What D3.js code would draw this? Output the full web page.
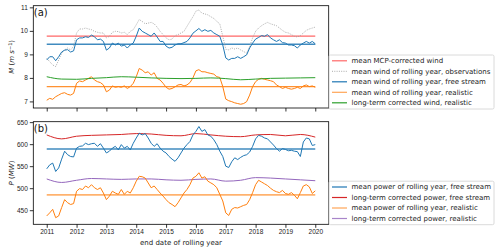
<!DOCTYPE html>
<html>
<head>
<meta charset="utf-8">
<script src="https://cdn.jsdelivr.net/npm/d3@7"></script>
<style>
	body { margin: 0; background: #fff; }
	svg { display: block; font-family: "DejaVu Sans", sans-serif; }
	.axis path, .axis line { stroke: #000; stroke-width: 0.8px; }
	.axis text { fill: #222; font-size: 6.5px; }
</style>
</head>
<body>
<svg id="chart" width="500" height="252"></svg>
<script>
// rolling-year end dates, every 0.1 year from 2011 to 2020
var years = d3.range(0, 91).map(function(i){ return 2011 + i / 10; });
// slow long-term corrected series, every half year
var halfYears = d3.range(0, 19).map(function(i){ return 2011 + i / 2; });
var yearTicks = [2011, 2012, 2013, 2014, 2015, 2016, 2017, 2018, 2019, 2020];
var windTicks = [7, 8, 9, 10, 11];
var powerTicks = [450, 500, 550, 600, 650];

// (a) wind speed, m/s
var windObs = [
	8.83, 8.69, 8.55, 8.48, 8.76, 9.05, 9.19, 9.27, 9.19, 9.34,
	9.91, 10.08, 10.08, 10.12, 10.08, 10.05, 9.98, 9.94, 9.91, 9.91,
	9.70, 9.77, 9.94, 9.98, 9.97, 9.91, 9.94, 9.84, 9.98, 10.05,
	10.26, 10.48, 10.40, 10.30, 10.33, 10.36, 10.30, 10.16, 9.98, 9.84,
	9.70, 9.62, 9.65, 9.80, 9.84, 9.91, 9.98, 10.19, 10.40, 10.60,
	10.84, 10.89, 10.75, 10.72, 10.68, 10.60, 10.53, 10.40, 10.30, 9.77,
	9.22, 9.19, 9.27, 9.23, 9.27, 9.19, 9.12, 9.05, 9.34, 9.70,
	9.98, 10.12, 10.22, 10.30, 10.36, 10.30, 10.26, 10.22, 10.12, 10.02,
	9.94, 9.91, 9.84, 9.77, 9.74, 9.80, 9.91, 10.02, 10.08, 10.12,
	10.16
];
var windFree = [
	8.76, 8.90, 8.90, 8.73, 8.90, 9.10, 9.18, 9.20, 9.10, 9.15,
	9.62, 9.70, 9.70, 9.75, 9.72, 9.82, 9.75, 9.62, 9.65, 9.55,
	9.18, 9.27, 9.48, 9.40, 9.48, 9.35, 9.40, 9.27, 9.40, 9.48,
	9.77, 10.12, 9.98, 9.91, 9.84, 9.77, 9.91, 9.74, 9.55, 9.55,
	9.35, 9.27, 9.30, 9.40, 9.45, 9.45, 9.50, 9.55, 9.70, 9.90,
	10.00, 10.10, 9.98, 10.05, 9.98, 10.02, 9.91, 9.84, 9.77, 9.40,
	8.85, 8.76, 8.83, 8.83, 8.90, 8.83, 8.90, 8.98, 9.27, 9.48,
	9.65, 9.72, 9.80, 9.77, 9.84, 9.70, 9.62, 9.55, 9.62, 9.50,
	9.48, 9.40, 9.40, 9.37, 9.27, 9.40, 9.48, 9.55, 9.48, 9.55,
	9.45
];
var windReal = [
	7.05, 7.13, 7.09, 7.20, 7.27, 7.34, 7.37, 7.30, 7.27, 7.34,
	7.77, 7.87, 7.84, 7.91, 7.98, 8.05, 7.91, 7.84, 7.80, 7.70,
	7.41, 7.48, 7.66, 7.60, 7.63, 7.60, 7.66, 7.55, 7.63, 7.77,
	8.05, 8.40, 8.33, 8.22, 8.26, 8.12, 8.22, 7.98, 7.91, 7.77,
	7.60, 7.52, 7.55, 7.62, 7.70, 7.72, 7.66, 7.70, 7.80, 8.00,
	8.30, 8.35, 8.26, 8.26, 8.22, 8.19, 8.16, 8.05, 8.02, 7.63,
	7.10, 7.03, 6.99, 6.94, 6.91, 6.88, 6.91, 6.99, 7.27, 7.63,
	7.84, 7.94, 7.98, 7.94, 7.91, 7.88, 7.84, 7.70, 7.63, 7.55,
	7.60, 7.55, 7.52, 7.55, 7.60, 7.55, 7.66, 7.70, 7.63, 7.66,
	7.60
];
var windLongTerm = [8.05, 7.95, 7.94, 7.98, 8.01, 8.05, 8.03, 8.00, 7.98, 7.97,
	7.98, 8.00, 7.97, 7.92, 7.95, 7.98, 7.99, 8.00, 8.01];
var windMcpMean = 9.78;
var windFreeMean = 9.43;
var windRealMean = 7.63;

// (b) power, MW
var powerFree = [
	544, 553, 557, 538, 546, 566, 584, 576, 572, 571,
	591, 595, 596, 602, 599, 601, 602, 595, 601, 591,
	580, 584, 591, 595, 587, 599, 591, 595, 587, 602,
	614, 625, 621, 624, 614, 602, 595, 601, 591, 584,
	580, 572, 566, 561, 569, 580, 591, 599, 606, 621,
	629, 640, 629, 633, 621, 618, 610, 599, 584, 572,
	550, 547, 560, 569, 565, 570, 574, 576, 582, 595,
	612, 620, 618, 614, 612, 605, 598, 590, 584, 590,
	588, 585, 586, 584, 583, 572, 605, 614, 612, 597,
	599
];
var powerReal = [
	437, 444, 452, 433, 437, 456, 474, 467, 463, 465,
	493, 499, 497, 505, 501, 508, 501, 497, 501, 489,
	474, 482, 493, 489, 486, 497, 486, 493, 489, 501,
	516, 527, 526, 523, 512, 501, 505, 497, 489, 482,
	474, 467, 463, 458, 467, 478, 489, 497, 508, 523,
	527, 535, 523, 526, 516, 512, 508, 501, 486, 471,
	444, 438, 452, 456, 455, 458, 461, 463, 474, 490,
	508, 518, 514, 510, 506, 500, 495, 492, 490, 495,
	488, 486, 490, 484, 476, 490, 505, 508, 503, 488,
	494
];
var powerFreeLongTerm = [621, 612, 618, 620, 621, 622, 624, 623, 620, 619,
	624, 621, 618, 617, 621, 622, 619, 622, 616];
var powerRealLongTerm = [521, 513, 518, 522, 521, 520, 521, 521, 519, 518,
	520, 521, 516, 518, 524, 523, 521, 519, 517];
var powerFreeMean = 589;
var powerRealMean = 485;

var svg = d3.select("#chart");

var xScale = d3.scaleLinear().domain([2010.55, 2020.45]).range([33.3, 328.7]);

function makePanel(opt){
	var yScale = d3.scaleLinear().domain(opt.domain).range([opt.bottom, opt.top]);
	var g = svg.append("g");

	var line = d3.line()
		.x(function(d){ return xScale(d[0]); })
		.y(function(d){ return yScale(d[1]); });
	var smooth = d3.line()
		.curve(d3.curveMonotoneX)
		.x(function(d){ return xScale(d[0]); })
		.y(function(d){ return yScale(d[1]); });

	// horizontal mean lines first, series on top
	opt.means.forEach(function(m){
		g.append("line")
			.attr("x1", xScale(2011)).attr("x2", xScale(2020))
			.attr("y1", yScale(m.value)).attr("y2", yScale(m.value))
			.style("stroke", m.color)
			.style("stroke-opacity", m.opacity)
			.style("stroke-width", m.width);
	});
	opt.series.forEach(function(s){
		var pts = d3.zip(s.x, s.values);
		g.append("path")
			.attr("d", (s.smooth ? smooth : line)(pts))
			.style("fill", "none")
			.style("stroke", s.color)
			.style("stroke-opacity", s.opacity || 1)
			.style("stroke-width", s.width || 1)
			.style("stroke-dasharray", s.dash || null)
			.style("stroke-linejoin", "round");
	});

	// axes
	var xAxis = d3.axisBottom(xScale)
		.tickValues(yearTicks)
		.tickSize(3.5)
		.tickPadding(2)
		.tickFormat(opt.xLabels ? d3.format("d") : "");
	g.append("g").attr("class", "axis")
		.attr("transform", "translate(0," + opt.bottom + ")")
		.call(xAxis)
		.select(".domain").remove();
	g.append("g").attr("class", "axis")
		.attr("transform", "translate(33.3,0)")
		.call(d3.axisLeft(yScale).tickValues(opt.ticks).tickSize(3.5).tickPadding(2).tickFormat(d3.format("d")))
		.select(".domain").remove();

	// frame
	g.append("rect")
		.attr("x", 33.3).attr("y", opt.top)
		.attr("width", 328.7 - 33.3).attr("height", opt.bottom - opt.top)
		.style("fill", "none")
		.style("stroke", "#000")
		.style("stroke-width", 0.8);

	g.append("text")
		.attr("x", 33.8).attr("y", opt.top + 10.3)
		.style("font-size", "10px")
		.style("fill", "#111")
		.text(opt.tag);

	// y label
	var yl = g.append("text")
		.attr("transform", "translate(14," + ((opt.top + opt.bottom) / 2) + ") rotate(-90)")
		.attr("text-anchor", "middle")
		.style("font-size", "7px")
		.style("fill", "#222");
	opt.yLabel(yl);

	// legend
	var lg = g.append("g").attr("transform", "translate(329," + opt.legendTop + ")");
	var rowH = 10.5;
	lg.append("rect")
		.attr("width", 165)
		.attr("height", opt.legend.length * rowH + 1.5)
		.attr("rx", 1.5)
		.style("fill", "#fff")
		.style("fill-opacity", 0.8)
		.style("stroke", "#d0d0d0")
		.style("stroke-width", 0.8);
	var rows = lg.selectAll("g.row")
		.data(opt.legend)
		.enter().append("g")
		.attr("class", "row")
		.attr("transform", function(d, i){ return "translate(0," + (5.8 + i * rowH) + ")"; });
	rows.append("line")
		.attr("x1", 3).attr("x2", 18)
		.style("stroke", function(d){ return d.color; })
		.style("stroke-opacity", function(d){ return d.opacity || 1; })
		.style("stroke-width", function(d){ return d.width || 1.2; })
		.style("stroke-dasharray", function(d){ return d.dash || null; });
	rows.append("text")
		.attr("x", 22.5).attr("y", 2.4)
		.style("font-size", "7px")
		.style("fill", "#222")
		.text(function(d){ return d.label; });
}

makePanel({
	top: 5.7, bottom: 108, domain: [6.72, 11.07], ticks: windTicks, tag: "(a)", xLabels: false,
	means: [
		{value: windMcpMean, color: "#ff0000", opacity: 0.6, width: 1.3},
		{value: windFreeMean, color: "#1f77b4", opacity: 0.85, width: 1.3},
		{value: windRealMean, color: "#ff7f0e", opacity: 0.85, width: 1.3}
	],
	series: [
		{x: years, values: windObs, color: "#a0a0a0", dash: "1,1.3", width: 0.9},
		{x: years, values: windFree, color: "#1f77b4"},
		{x: years, values: windReal, color: "#ff7f0e"},
		{x: halfYears, values: windLongTerm, color: "#2ca02c", smooth: true}
	],
	yLabel: function(t){
		t.append("tspan").style("font-style", "italic").text("M");
		t.append("tspan").text(" (");
		t.append("tspan").style("font-style", "italic").text("m s");
		t.append("tspan").attr("dy", -2.5).style("font-size", "5px").text("−1");
		t.append("tspan").attr("dy", 2.5).text(")");
	},
	legendTop: 55,
	legend: [
		{label: "mean MCP-corrected wind", color: "#ff0000", opacity: 0.6},
		{label: "mean wind of rolling year, observations", color: "#a0a0a0", dash: "1,1.3", width: 0.9},
		{label: "mean wind of rolling year, free stream", color: "#1f77b4"},
		{label: "mean wind of rolling year, realistic", color: "#ff7f0e", opacity: 0.7},
		{label: "long-term corrected wind, realistic", color: "#2ca02c"}
	]
});

makePanel({
	top: 121.7, bottom: 224.3, domain: [418, 651], ticks: powerTicks, tag: "(b)", xLabels: true,
	means: [
		{value: powerFreeMean, color: "#1f77b4", opacity: 0.85, width: 1.3},
		{value: powerRealMean, color: "#ff7f0e", opacity: 0.6, width: 1.8}
	],
	series: [
		{x: halfYears, values: powerFreeLongTerm, color: "#d62728", smooth: true},
		{x: halfYears, values: powerRealLongTerm, color: "#9467bd", smooth: true},
		{x: years, values: powerFree, color: "#1f77b4"},
		{x: years, values: powerReal, color: "#ff7f0e"}
	],
	yLabel: function(t){
		t.append("tspan").style("font-style", "italic").text("P");
		t.append("tspan").text(" (");
		t.append("tspan").style("font-style", "italic").text("MW");
		t.append("tspan").text(")");
	},
	legendTop: 181.2,
	legend: [
		{label: "mean power of rolling year, free stream", color: "#1f77b4"},
		{label: "long-term corrected power, free stream", color: "#d62728"},
		{label: "mean power of rolling year, realistic", color: "#ff7f0e", opacity: 0.7},
		{label: "long-term corrected power, realistic", color: "#9467bd", opacity: 0.8}
	]
});

svg.append("text")
	.attr("x", 181).attr("y", 245)
	.attr("text-anchor", "middle")
	.style("font-size", "7px")
	.style("fill", "#222")
	.text("end date of rolling year");
</script>
</body>
</html>
